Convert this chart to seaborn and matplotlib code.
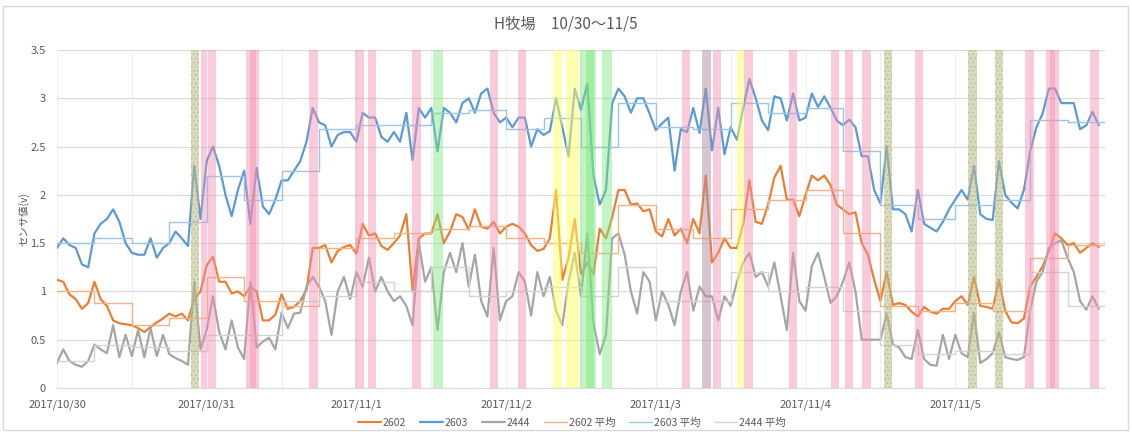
import numpy as np
import pandas as pd
import matplotlib
matplotlib.use("Agg")
import matplotlib.pyplot as plt
import seaborn as sns
from matplotlib.patches import Rectangle

# ---------------------------------------------------------------- data
title = "H牧場　10/30～11/5"
y_label = "センサ値(v)"
day_labels = ["2017/10/30", "2017/10/31", "2017/11/1", "2017/11/2",
              "2017/11/3", "2017/11/4", "2017/11/5"]
sensor_names = ["2602", "2603", "2444"]
avg_names = ["2602 平均", "2603 平均", "2444 平均"]

# hourly sensor readings, starting 2017/10/30 0:00
s2602 = [
    1.12, 1.10, 0.97, 0.92, 0.82, 0.88, 1.10, 0.92, 0.85, 0.70, 0.67, 0.66,
    0.65, 0.62, 0.58, 0.63, 0.68, 0.72, 0.77, 0.74, 0.77, 0.70, 0.92, 1.00,
    1.27, 1.36, 1.10, 1.10, 0.98, 1.00, 0.95, 1.05, 1.00, 0.70, 0.70, 0.76,
    0.97, 0.82, 0.84, 0.90, 1.02, 1.45, 1.45, 1.48, 1.30, 1.42, 1.46, 1.48,
    1.39, 1.70, 1.58, 1.60, 1.47, 1.43, 1.50, 1.58, 1.80, 1.01, 1.55, 1.60,
    1.60, 1.80, 1.50, 1.62, 1.80, 1.77, 1.64, 1.85, 1.67, 1.65, 1.72, 1.60,
    1.67, 1.70, 1.67, 1.60, 1.48, 1.42, 1.44, 1.55, 2.05, 1.12, 1.35, 1.75,
    1.18, 1.30, 1.18, 1.65, 1.55, 1.77, 2.05, 2.05, 1.90, 1.91, 1.83, 1.85,
    1.62, 1.57, 1.75, 1.58, 1.65, 1.50, 1.75, 1.60, 2.20, 1.30, 1.40, 1.55,
    1.45, 1.45, 1.70, 2.15, 1.72, 1.70, 1.90, 2.18, 2.30, 1.95, 1.95, 1.78,
    2.00, 2.20, 2.15, 2.20, 2.10, 1.90, 1.85, 1.80, 1.82, 1.50, 1.38, 1.12,
    0.90, 1.20, 0.86, 0.88, 0.86, 0.79, 0.74, 0.84, 0.79, 0.77, 0.82, 0.82,
    0.90, 0.95, 0.86, 1.15, 0.85, 0.84, 0.82, 1.12, 0.80, 0.68, 0.67, 0.72,
    1.05, 1.15, 1.26, 1.42, 1.60, 1.55, 1.48, 1.50, 1.40, 1.45, 1.50, 1.46,
]
s2603 = [
    1.45, 1.55, 1.48, 1.45, 1.28, 1.25, 1.60, 1.70, 1.75, 1.85, 1.72, 1.50,
    1.40, 1.38, 1.38, 1.55, 1.35, 1.45, 1.50, 1.62, 1.55, 1.47, 2.30, 1.75,
    2.35, 2.50, 2.30, 2.00, 1.78, 2.05, 2.25, 1.70, 2.28, 1.88, 1.80, 1.95,
    2.15, 2.15, 2.25, 2.35, 2.55, 2.90, 2.75, 2.72, 2.50, 2.62, 2.65, 2.65,
    2.55, 2.85, 2.80, 2.80, 2.60, 2.55, 2.65, 2.55, 2.85, 2.36, 2.90, 2.80,
    2.90, 2.45, 2.90, 2.85, 2.75, 2.95, 3.00, 2.85, 3.05, 3.10, 2.85, 2.75,
    2.80, 2.70, 2.80, 2.80, 2.50, 2.68, 2.62, 2.66, 3.00, 2.70, 2.40, 3.10,
    2.88, 3.15, 2.20, 1.90, 2.05, 2.95, 3.10, 3.02, 2.85, 3.00, 3.00, 2.84,
    2.67, 2.74, 2.80, 2.25, 2.68, 2.65, 2.90, 2.64, 3.10, 2.46, 2.90, 2.42,
    2.70, 2.57, 2.90, 3.20, 3.00, 2.77, 2.67, 3.02, 3.00, 2.77, 3.05, 2.77,
    2.80, 3.05, 2.91, 3.02, 2.90, 2.77, 2.72, 2.78, 2.70, 2.40, 2.40, 2.05,
    1.91, 2.50, 1.85, 1.85, 1.80, 1.62, 2.05, 1.70, 1.66, 1.62, 1.72, 1.85,
    1.95, 2.05, 1.95, 2.30, 1.80, 1.75, 1.74, 2.35, 2.00, 1.92, 1.86, 2.05,
    2.45, 2.70, 2.84, 3.10, 3.10, 2.95, 2.95, 2.95, 2.68, 2.72, 2.86, 2.72,
]
s2444 = [
    0.26, 0.40, 0.28, 0.24, 0.22, 0.28, 0.45, 0.40, 0.36, 0.65, 0.32, 0.55,
    0.33, 0.60, 0.32, 0.62, 0.33, 0.55, 0.35, 0.31, 0.28, 0.24, 1.10, 0.40,
    0.60, 0.95, 0.58, 0.40, 0.70, 0.42, 0.30, 1.10, 0.42, 0.48, 0.52, 0.40,
    0.78, 0.62, 0.77, 0.78, 1.05, 1.15, 1.05, 0.90, 0.55, 1.00, 1.15, 0.92,
    1.20, 1.05, 1.35, 1.00, 1.15, 1.00, 0.90, 0.95, 0.85, 0.65, 1.50, 1.10,
    1.25, 0.60, 1.20, 1.40, 1.20, 1.50, 1.05, 1.38, 0.90, 0.74, 1.45, 0.70,
    0.90, 0.95, 1.20, 1.10, 0.75, 1.20, 0.95, 1.15, 0.80, 0.65, 1.10, 1.40,
    0.95, 1.60, 0.67, 0.35, 0.55, 1.55, 1.60, 1.38, 1.00, 0.77, 1.20, 1.10,
    0.70, 1.00, 0.86, 0.65, 1.00, 1.20, 0.80, 1.05, 0.95, 0.95, 0.70, 0.95,
    0.85, 1.10, 1.30, 1.40, 1.15, 1.20, 1.05, 1.30, 0.95, 0.60, 1.40, 0.90,
    0.80, 1.26, 1.40, 1.15, 0.88, 0.95, 1.10, 1.30, 1.00, 0.50, 0.50, 0.50,
    0.50, 0.77, 0.45, 0.42, 0.32, 0.30, 0.60, 0.30, 0.24, 0.23, 0.55, 0.30,
    0.55, 0.36, 0.32, 0.78, 0.26, 0.30, 0.36, 0.58, 0.32, 0.30, 0.29, 0.32,
    0.80, 1.10, 1.20, 1.45, 1.50, 1.53, 1.35, 1.20, 0.90, 0.81, 0.95, 0.82,
]

# 6-hour block averages
avg_block_hours = 6
avg2602 = [1.00, 0.88, 0.65, 0.72, 1.15, 0.90, 0.85, 1.45, 1.55, 1.60,
           1.65, 1.68, 1.55, 1.50, 1.40, 1.90, 1.65, 1.55, 1.85, 1.95,
           2.05, 1.60, 0.85, 0.80, 0.88, 0.80, 1.35, 1.48]
avg2603 = [1.50, 1.55, 1.50, 1.72, 2.20, 1.95, 2.25, 2.68, 2.72, 2.72,
           2.85, 2.88, 2.68, 2.80, 2.50, 2.95, 2.70, 2.68, 2.95, 2.85,
           2.90, 2.45, 1.90, 1.75, 1.90, 1.95, 2.78, 2.75]
avg2444 = [0.28, 0.45, 0.42, 0.38, 0.55, 0.55, 0.90, 0.95, 1.10, 1.00,
           1.25, 0.95, 1.00, 1.05, 0.95, 1.25, 0.90, 0.90, 1.20, 1.00,
           1.05, 0.80, 0.45, 0.35, 0.38, 0.35, 1.20, 0.85]

# marked events (hours from 10/30 0:00)
event_start = [21.55, 23.15, 24.16, 30.35, 31.0, 40.37, 47.84, 49.81, 56.91,
               60.32, 69.39, 73.92, 79.52, 81.55, 83.84, 84.75, 87.4, 100.2,
               103.4, 105.17, 109.0, 110.2, 117.4, 124.1, 126.35, 129.07,
               132.5, 137.55, 146.1, 150.35, 155.25, 158.6, 159.2, 165.55]
event_end = [22.77, 24.0, 25.55, 32.37, 31.9, 41.81, 49.28, 51.15, 58.35,
             61.81, 70.77, 75.25, 81.0, 83.68, 86.35, 86.1, 88.9, 101.55,
             104.85, 106.5, 110.08, 111.5, 118.7, 125.4, 127.68, 130.45,
             133.9, 138.9, 147.5, 151.7, 156.6, 160.6, 160.0, 167.0]
event_kind = ["olive", "pink", "pink", "pink", "pink", "pink", "pink", "pink",
              "pink", "green", "pink", "pink", "yellow", "yellow", "green",
              "green", "green", "pink", "mauve", "pink", "yellow", "pink",
              "pink", "pink", "pink", "pink", "olive", "pink", "olive",
              "olive", "pink", "pink", "pink", "pink"]

# ---------------------------------------------------------------- styles
W, H = 1132, 434
line_colors = {"2602": "#ED7D31", "2603": "#5B9BD5", "2444": "#A5A5A5"}
avg_colors = {"2602 平均": "#F4B183", "2603 平均": "#9DC3E6",
              "2444 平均": "#D3D3D3"}
band_style = {
    "pink": dict(color="#F48FB1", alpha=0.45),
    "green": dict(color="#7CE67C", alpha=0.45),
    "yellow": dict(color="#FFFF66", alpha=0.50),
    "olive": dict(color="#BDBD85", alpha=0.55),
    "mauve": dict(color="#B08CA2", alpha=0.50),
}
text_color = "#595959"

sns.set_theme(style="white")
plt.rcParams["font.family"] = ["Noto Sans CJK JP", "DejaVu Sans"]
plt.rcParams["hatch.linewidth"] = 0.6

fig = plt.figure(figsize=(W / 100, H / 100), dpi=100)
ax = fig.add_axes([57 / W, 1 - 388 / H, (1105 - 57) / W, (388 - 50) / H])

hours = np.arange(len(s2602))
df = pd.DataFrame({"hour": hours, "2602": s2602, "2603": s2603,
                   "2444": s2444})

for name in sensor_names:
    sns.lineplot(data=df, x="hour", y=name, ax=ax, color=line_colors[name],
                 linewidth=1.6, label=name, zorder=2)

edges = np.arange(len(avg2602) + 1) * avg_block_hours
for name, vals in zip(avg_names, [avg2602, avg2603, avg2444]):
    sns.lineplot(x=edges, y=list(vals) + [vals[-1]], ax=ax,
                 color=avg_colors[name], linewidth=1.0, label=name,
                 drawstyle="steps-post", zorder=3)

for s, e, k in zip(event_start, event_end, event_kind):
    st = band_style[k]
    if k == "olive":
        ax.axvspan(s, e, facecolor=st["color"], alpha=st["alpha"],
                   hatch="....", edgecolor="#A9A97A", lw=0, zorder=5)
    else:
        ax.axvspan(s, e, color=st["color"], alpha=st["alpha"], lw=0,
                   zorder=5)

# axes
ax.set_xlim(0, 168)
ax.set_ylim(0, 3.5)
ax.set_yticks(np.arange(0, 3.51, 0.5))
ax.set_yticklabels([f"{v:g}" for v in np.arange(0, 3.51, 0.5)])
ax.set_xticks(np.arange(len(day_labels)) * 24)
ax.set_xticklabels(day_labels)
ax.set_xticks(np.arange(0, 169, 12), minor=True)
ax.tick_params(axis="both", length=0, labelsize=8, colors=text_color)
ax.tick_params(axis="y", pad=8)
ax.tick_params(axis="x", pad=8)
ax.grid(axis="y", color="#D9D9D9", linewidth=0.8)
ax.grid(axis="x", which="both", color="#F0F0F0", linewidth=0.8)
ax.set_axisbelow(True)
for side in ["top", "right", "left"]:
    ax.spines[side].set_visible(False)
ax.spines["bottom"].set_color("#D9D9D9")
ax.spines["bottom"].set_linewidth(0.8)
ax.set_xlabel("")
ax.set_ylabel(y_label, fontsize=7.5, color=text_color, labelpad=1)

handles, labels = ax.get_legend_handles_labels()
ax.legend_.remove()
fig.legend(handles, labels, loc="center", bbox_to_anchor=(0.505, 1 - 423 / H),
           ncol=6, frameon=False, fontsize=7.5, handlelength=2.2,
           columnspacing=1.3, handletextpad=0.2, labelcolor=text_color)

fig.text(0.5, 1 - 24 / H, title, ha="center", va="center", fontsize=11,
         color=text_color)

fig.patches.append(Rectangle((3 / W, 1 - 430 / H), 1125 / W, 424 / H,
                             transform=fig.transFigure, fill=False,
                             edgecolor="#D9D9D9", linewidth=1.0))

fig.savefig("out.png", dpi=100, facecolor="white")
